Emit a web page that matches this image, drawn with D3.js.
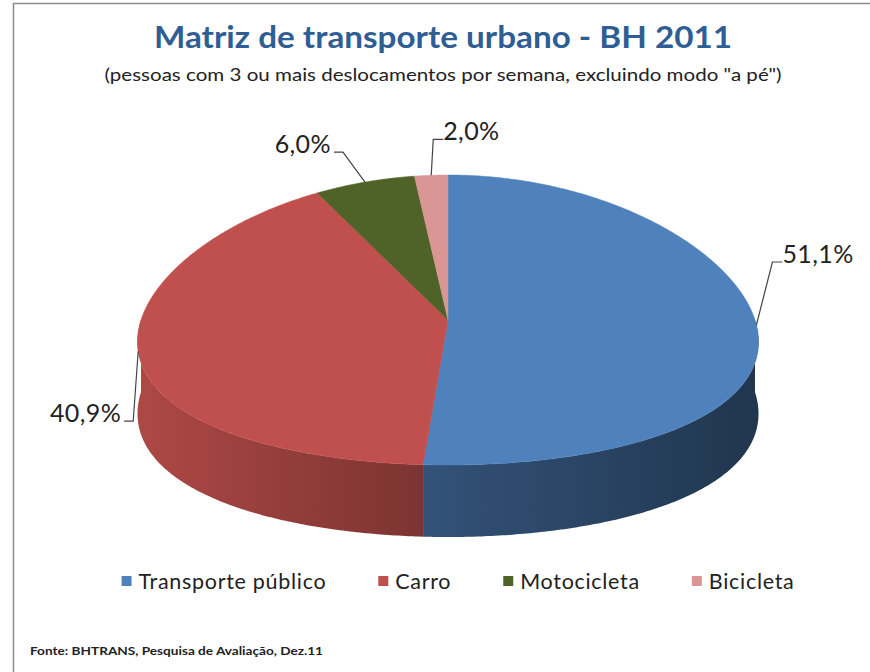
<!DOCTYPE html>
<html lang="pt">
<head>
<meta charset="utf-8">
<script src="https://cdn.jsdelivr.net/npm/d3@7"></script>
<title>Matriz de transporte urbano - BH 2011</title>
<style>
  body { margin: 0; background: #fff; }
  svg { display: block; font-family: Lato, "Open Sans", sans-serif; }
</style>
</head>
<body>
<div id="chart"></div>
<script>
// data
const categories = ["Transporte público", "Carro", "Motocicleta", "Bicicleta"];
const values = [51.1, 40.9, 6.0, 2.0];
const valueLabels = ["51,1%", "40,9%", "6,0%", "2,0%"];
const colors = ["#4F81BD", "#C0504D", "#4F6228", "#D99694"];

const W = 870, H = 672;
const cx = 448, cy = 320, rx = 307, ry = 145, depth = 72;
const persp = 0.15; // back of the disc a bit narrower

// leader elbow offsets from the slice anchor (layout only)
const labelElbow = [[16, -63], [-5, 70], [-22, -30], [2, -36]];

const svg = d3.select("#chart").append("svg").attr("width", W).attr("height", H);

// frame lines
svg.append("line").attr("x1", 13.5).attr("x2", 13.5).attr("y1", 3).attr("y2", H)
   .attr("stroke", "#8c8c8c").attr("stroke-width", 1.5);
svg.append("line").attr("x1", 13).attr("x2", W).attr("y1", 3.5).attr("y2", 3.5)
   .attr("stroke", "#8c8c8c").attr("stroke-width", 1.5);

svg.append("text").attr("x", 443).attr("y", 48).attr("text-anchor", "middle")
   .attr("font-size", 31).attr("font-weight", "bold").attr("fill", "#2F5E95")
   .attr("textLength", 578).attr("lengthAdjust", "spacingAndGlyphs")
   .text("Matriz de transporte urbano - BH 2011");
svg.append("text").attr("x", 443).attr("y", 81).attr("text-anchor", "middle")
   .attr("font-size", 16.5).attr("fill", "#222")
   .attr("textLength", 677).attr("lengthAdjust", "spacingAndGlyphs")
   .text('(pessoas com 3 ou mais deslocamentos por semana, excluindo modo "a pé")');

// projection of an angle on the disc (0 = top, clockwise)
function proj(a, dy) {
  const u = Math.sin(a), v = Math.cos(a);
  const s = 1 / (1 + persp * v);
  return [cx + rx * u * s, cy - ry * v + (dy || 0)];
}
function arcPts(a0, a1, dy) {
  const n = Math.max(2, Math.ceil(Math.abs(a1 - a0) / 0.01));
  return d3.range(n + 1).map(i => proj(a0 + (a1 - a0) * i / n, dy));
}
const line = d3.line();

const pie = d3.pie().sort(null).value(d => d);
const arcs = pie(values);

// side shading gradients
const defs = svg.append("defs");
colors.forEach((c, i) => {
  const g = defs.append("linearGradient").attr("id", "side" + i)
    .attr("gradientUnits", "userSpaceOnUse")
    .attr("x1", cx - rx).attr("x2", cx + rx).attr("y1", 0).attr("y2", 0);
  const base = d3.rgb(c);
  [[0, 0.9], [0.5, 0.62], [1, 0.42]].forEach(([o, f]) => {
    g.append("stop").attr("offset", o)
      .attr("stop-color", d3.rgb(base.r * f, base.g * f, base.b * f).formatHex());
  });
});

// front walls
const sides = svg.append("g");
arcs.forEach((d, i) => {
  const a0 = Math.max(d.startAngle, Math.PI / 2);
  const a1 = Math.min(d.endAngle, 3 * Math.PI / 2);
  if (a1 <= a0) return;
  const pts = arcPts(a0, a1, 0).concat(arcPts(a1, a0, depth));
  sides.append("path").attr("d", line(pts) + "Z").attr("fill", `url(#side${i})`);
});

// top faces
const tops = svg.append("g");
arcs.forEach((d, i) => {
  const pts = [[cx, cy]].concat(arcPts(d.startAngle, d.endAngle, 0));
  tops.append("path").attr("d", line(pts) + "Z").attr("fill", colors[i])
    .attr("stroke", colors[i]).attr("stroke-width", 0.5);
});

// data labels with leader lines
const lab = svg.append("g");
arcs.forEach((d, i) => {
  const mid = (d.startAngle + d.endAngle) / 2;
  const p = proj(mid, 0);
  const e = [p[0] + labelElbow[i][0], p[1] + labelElbow[i][1]];
  const right = e[0] > p[0];
  const h = [e[0] + (right ? 10 : -9), e[1]];
  lab.append("path").attr("d", line([p, e, h])).attr("fill", "none")
    .attr("stroke", "#444").attr("stroke-width", 1.2);
  lab.append("text").attr("x", h[0] + (right ? 0 : -3)).attr("y", h[1] + 1)
    .attr("text-anchor", right ? "start" : "end")
    .attr("font-size", 25).attr("letter-spacing", 0.4)
    .attr("fill", "#222").text(valueLabels[i]);
});

// legend
const leg = svg.append("g").attr("transform", "translate(0,581)");
const items = leg.selectAll("g").data(categories).join("g");
items.append("rect").attr("width", 10).attr("height", 10).attr("y", -5)
  .attr("fill", (d, i) => colors[i]);
items.append("text").attr("x", 17).attr("dy", "0.35em")
  .attr("font-size", 21.5).attr("letter-spacing", 0.7)
  .attr("fill", "#222").text(d => d);
let x = 0;
const offs = [];
items.each(function () {
  offs.push(x);
  x += 17 + this.querySelector("text").getComputedTextLength() + 52;
});
const total = x - 52;
items.attr("transform", (d, i) => `translate(${458 - total / 2 + offs[i]},0)`);

svg.append("text").attr("x", 30).attr("y", 655).attr("font-size", 11.5)
  .attr("font-weight", "bold").attr("fill", "#222")
  .attr("textLength", 293).attr("lengthAdjust", "spacingAndGlyphs")
  .text("Fonte: BHTRANS, Pesquisa de Avaliação, Dez.11");
</script>
</body>
</html>
